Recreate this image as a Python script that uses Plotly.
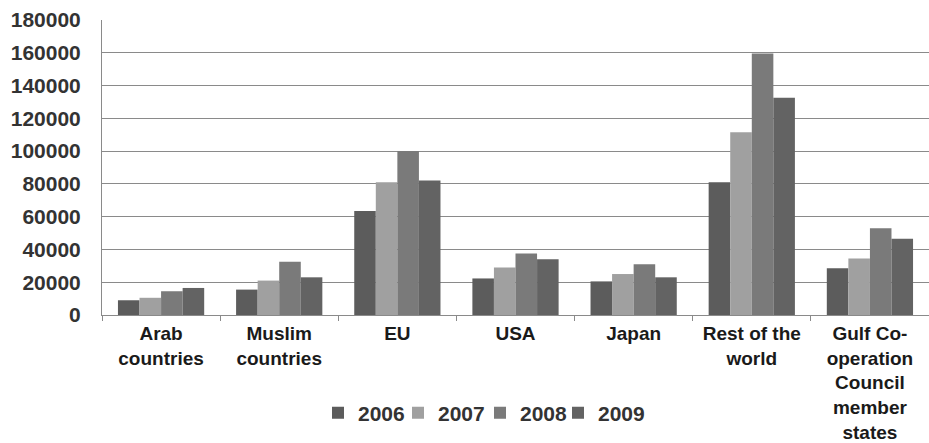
import plotly.graph_objects as go

# Trade values by partner region, 2006-2009
categories = [
    "Arab<br>countries",
    "Muslim<br>countries",
    "EU",
    "USA",
    "Japan",
    "Rest of the<br>world",
    "Gulf Co-<br>operation<br>Council<br>member<br>states",
]
years = ["2006", "2007", "2008", "2009"]
values_2006 = [9000, 15500, 63500, 22300, 20500, 81000, 28500]
values_2007 = [10500, 21000, 81000, 29000, 25000, 111500, 34500]
values_2008 = [14500, 32500, 100000, 37600, 31000, 159500, 53000]
values_2009 = [16500, 23000, 82000, 34000, 23000, 132500, 46500]
y_ticks = [0, 20000, 40000, 60000, 80000, 100000, 120000, 140000, 160000, 180000]

series = [values_2006, values_2007, values_2008, values_2009]
colors = ["#5c5c5c", "#a0a0a0", "#7a7a7a", "#636363"]

font_family = "Liberation Sans, Arial, sans-serif"

W, H = 929, 443
ML, MR, MT, MB = 102, 0, 20, 128
plot_w = W - ML - MR

# one small legend per year so the entries sit close together in a row
legend_ids = ["legend", "legend2", "legend3", "legend4"]
legend_left_px = [318, 398, 480, 558]

fig = go.Figure()
for name, vals, col, lid in zip(years, series, colors, legend_ids):
    fig.add_trace(go.Bar(
        x=categories,
        y=vals,
        name=f"<b>{name}</b>",
        marker=dict(color=col, line=dict(width=0)),
        legend=lid,
    ))

legend_style = dict(
    orientation="h",
    xanchor="left",
    yref="container",
    y=1 - 413 / H,
    yanchor="middle",
    font=dict(size=21, color="#333333", family=font_family),
    itemwidth=30,
    bgcolor="rgba(0,0,0,0)",
)
legend_layout = {}
for lid, px in zip(legend_ids, legend_left_px):
    legend_layout[lid] = dict(legend_style, x=(px - ML) / plot_w)

fig.update_layout(
    width=W,
    height=H,
    margin=dict(l=ML, r=MR, t=MT, b=MB, autoexpand=False),
    paper_bgcolor="white",
    plot_bgcolor="white",
    barmode="group",
    bargap=0.27,
    bargroupgap=0,
    font=dict(family=font_family, color="#222222"),
    showlegend=True,
    **legend_layout,
)

fig.update_yaxes(
    range=[0, 180000],
    tickvals=y_ticks,
    ticktext=[f"<b>{v}</b>" for v in y_ticks],
    tickfont=dict(size=21, color="#333333", family=font_family),
    showgrid=True,
    gridcolor="#8a8a8a",
    gridwidth=1,
    showline=True,
    linecolor="#8a8a8a",
    linewidth=1,
    ticks="",
    zeroline=False,
    ticklabelstandoff=16,
)

fig.update_xaxes(
    tickvals=categories,
    ticktext=[f"<b>{c}</b>" for c in categories],
    tickfont=dict(size=19, color="#1a1a1a", family=font_family),
    showline=True,
    linecolor="#8a8a8a",
    linewidth=1,
    ticks="outside",
    tickson="boundaries",
    ticklen=5,
    tickcolor="#8a8a8a",
    tickangle=0,
    ticklabelstandoff=1,
)

fig.write_html("out.html")
